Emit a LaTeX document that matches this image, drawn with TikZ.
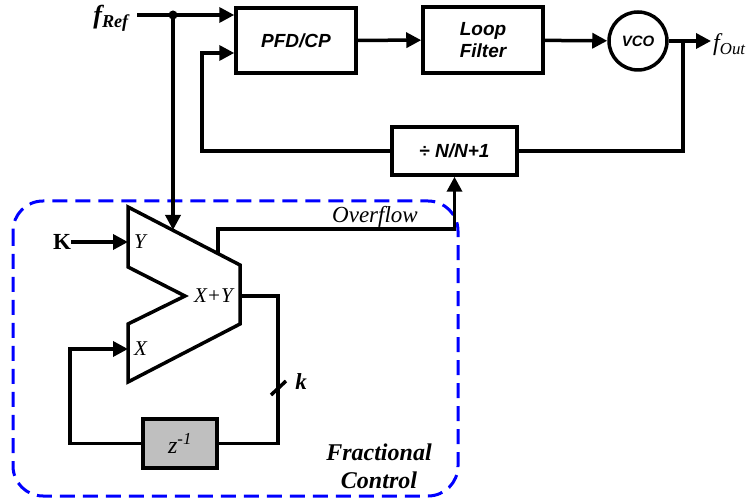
\documentclass[tikz,border=0pt]{standalone}
\usepackage{fontspec}
\setmainfont{Liberation Serif}
\newfontfamily\arialfont{Liberation Sans}
\usetikzlibrary{arrows.meta}

\newcommand{\adderpath}[2]{%
  % (#1,#2) = top left corner of the adder
    (#1,#2) -- ({#1+112},{#2+58}) -- ({#1+112},{#2+117})
    -- ({#1},{#2+175}) -- ({#1},{#2+117})
    -- ({#1+57},{#2+89}) -- ({#1},{#2+60}) -- cycle
}

\tikzset{
  block/.style={draw, line width=3.5pt, inner sep=0pt, align=center,
    font=\arialfont\bfseries\itshape\fontsize{19}{22}\selectfont},
  wire/.style={line width=3.5pt},
  lbl/.style={inner sep=0pt, font=\itshape\fontsize{21}{21}\selectfont}
}

\begin{document}
\begin{tikzpicture}[x=1pt, y=-1pt, >={Triangle[length=15pt 0,width=15pt 0]}]
		\useasboundingbox (0,0) rectangle (755,502);
		\node[block, minimum width=120pt, minimum height=65pt] (pfd) at (296,40.5) {PFD/CP};
		\node[block, minimum width=120pt, minimum height=66pt] (filter) at (483,40) {Loop\\Filter};
		\node[block, circle, minimum size=58pt, font=\arialfont\bfseries\itshape\fontsize{15}{15}\selectfont] (vco) at (638,41) {VCO};
		\node[block, minimum width=125pt, minimum height=48pt] (div) at (454.5,151) {÷ N/N+1};
		\node[block, fill=black!25, minimum width=74pt, minimum height=49pt, font=\itshape\fontsize{24}{24}\selectfont] (delay) at (180,443.5) {z\textsuperscript{-1}};
		\coordinate (fin) at (137,15);
		\coordinate (tap) at (173,15);
		\coordinate (fb) at (202,53);
		\coordinate (otap) at (683,41);
		\coordinate (fout) at (711,41);
		\coordinate (ain) at (173,230);
		\coordinate (yin) at (128,242);
		\coordinate (xin) at (128,349);
		\coordinate (ovf) at (218,253.6);
		\coordinate (ovfc) at (218,229);
		\coordinate (sumout) at (240,296);
		\coordinate (sumc) at (278,296);
		\coordinate (xc) at (70,349);
		% adder and the fractional control box
		\draw[wire] \adderpath{128}{207};
		\draw[blue, line width=3pt, dash pattern=on 15pt off 8pt, rounded corners=30pt] (13,201) rectangle (458,496);
		% loop
		\draw[wire, ->] (fin) -- (pfd.west |- fin);
		\fill (tap) circle (4.5pt);
		\draw[wire, ->] (tap) -- (ain);
		\draw[wire, ->] (div.west) -| (fb) -- (pfd.west |- fb);
		\draw[wire, ->] (pfd) -- (filter);
		\draw[wire, ->] (filter) -- (vco);
		\draw[wire, ->] (vco) -- (fout);
		\draw[wire] (otap) |- (div.east);
		\draw[wire, ->] (ovf) -- (ovfc) -| (div.south);
		\draw[wire] (sumout) -- (sumc) |- (delay.east);
		\draw[wire, ->] (delay.west) -| (xc) -- (xin);
		\draw[wire] (271,395) -- (286,381);
		% labels
		\node[anchor=east, inner sep=0pt, font=\bfseries\itshape\fontsize{26}{26}\selectfont] (fref) at (129,18) {f\textsubscript{Ref}};
		\node[anchor=west, lbl, font=\itshape\fontsize{24}{24}\selectfont] (foutlbl) at (713,45) {f\textsubscript{Out}};
		\node[inner sep=0pt, font=\bfseries\fontsize{23}{23}\selectfont] (k) at (62,242) {K};
		\draw[wire, ->] (k.east) -- (yin);
		\node[anchor=west, lbl] (ylbl) at (134,242) {Y};
		\node[anchor=west, lbl] (xlbl) at (134,349) {X};
		\node[anchor=east, lbl] (sumlbl) at (233,296) {X+Y};
		\node[lbl, font=\itshape\fontsize{23}{23}\selectfont] (ovflbl) at (375,217) {Overflow};
		\node[lbl, font=\bfseries\itshape\fontsize{23}{23}\selectfont] (klbl) at (301,382) {k};
		\node[align=center, font=\bfseries\itshape\fontsize{24}{28}\selectfont] (frac) at (379,466) {Fractional\\Control};
	\end{tikzpicture}
\end{document}
